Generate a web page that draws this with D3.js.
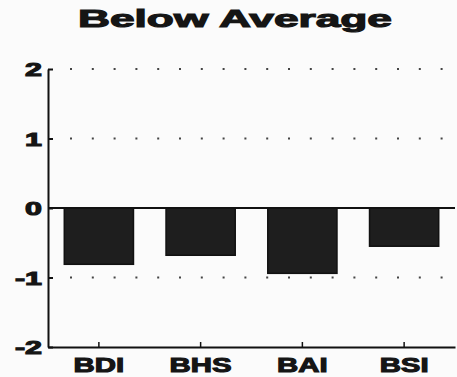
<!DOCTYPE html>
<html>
<head>
<meta charset="utf-8">
<script src="https://cdn.jsdelivr.net/npm/d3@7"></script>
<style>
  html, body { margin: 0; padding: 0; background: #fbfbfb; }
  svg { display: block; }
  text { font-family: "Liberation Sans", Arial, sans-serif; font-weight: bold; fill: #151515; }
</style>
</head>
<body>
<svg id="chart" width="457" height="377"></svg>
<script>
const title = "Below Average";
const categories = ["BDI", "BHS", "BAI", "BSI"];
const values = [-0.81, -0.68, -0.94, -0.55];
const yTicks = [-2, -1, 0, 1, 2];
const gridValues = [2, 1, -1];

const W = 457, H = 377;
const margin = { left: 48, right: 2, top: 69, bottom: 30 };
const svg = d3.select("#chart");
svg.append("rect").attr("width", W).attr("height", H).attr("fill", "#fbfbfb");

const x = d3.scaleBand().domain(categories).range([margin.left, W - margin.right]).paddingInner(0.32).paddingOuter(0.16);
const y = d3.scaleLinear().domain([-2, 2]).range([H - margin.bottom, margin.top]);

// dotted gridlines
svg.append("g").selectAll("line").data(gridValues).join("line")
  .attr("x1", margin.left + 22).attr("x2", W - margin.right)
  .attr("y1", d => y(d)).attr("y2", d => y(d))
  .attr("stroke", "#444").attr("stroke-width", 2)
  .attr("stroke-dasharray", "2 19.8");

// bars
svg.append("g").selectAll("rect").data(categories).join("rect")
  .attr("x", d => x(d))
  .attr("width", x.bandwidth())
  .attr("y", (d, i) => y(Math.max(0, values[i])))
  .attr("height", (d, i) => Math.abs(y(values[i]) - y(0)))
  .attr("fill", "#1e1e1e")
  .attr("stroke", "#111").attr("stroke-width", 1.5);

// zero line
svg.append("line")
  .attr("x1", margin.left).attr("x2", W - margin.right)
  .attr("y1", y(0)).attr("y2", y(0))
  .attr("stroke", "#111").attr("stroke-width", 2);

// y axis
const yAxis = svg.append("g").attr("transform", `translate(${margin.left},0)`)
  .call(d3.axisLeft(y).tickValues(yTicks).tickFormat(d => String(d)).tickSizeInner(-5).tickSizeOuter(0).tickPadding(6));
yAxis.select(".domain").attr("stroke", "#111").attr("stroke-width", 2);
yAxis.selectAll(".tick line").attr("stroke", "#111").attr("stroke-width", 2);
yAxis.selectAll(".tick text")
  .attr("x", 0).attr("dy", "0.36em")
  .attr("transform", "translate(-6,0) scale(1.6,1)")
  .attr("text-anchor", "end")
  .style("font-size", "19px")
  .attr("stroke", "#151515").attr("stroke-width", 1.1)
  .attr("fill", "#151515");

// x axis
const xAxis = svg.append("g").attr("transform", `translate(0,${H - margin.bottom})`)
  .call(d3.axisBottom(x).tickSizeInner(-5).tickSizeOuter(0).tickPadding(6));
xAxis.select(".domain").attr("stroke", "#111").attr("stroke-width", 2);
xAxis.selectAll(".tick line").attr("stroke", "#111").attr("stroke-width", 1.5);
xAxis.selectAll(".tick text")
  .attr("y", 0).attr("dy", 0)
  .attr("transform", "translate(0,25) scale(1.4,1)")
  .attr("text-anchor", "middle")
  .style("font-size", "21px")
  .attr("stroke", "#151515").attr("stroke-width", 1.1)
  .attr("fill", "#151515");

// title
svg.append("text")
  .attr("x", 235).attr("y", 27)
  .attr("text-anchor", "middle")
  .attr("textLength", 314).attr("lengthAdjust", "spacingAndGlyphs")
  .style("font-size", "24px")
  .attr("stroke", "#151515").attr("stroke-width", 1.1)
  .text(title);
</script>
</body>
</html>
